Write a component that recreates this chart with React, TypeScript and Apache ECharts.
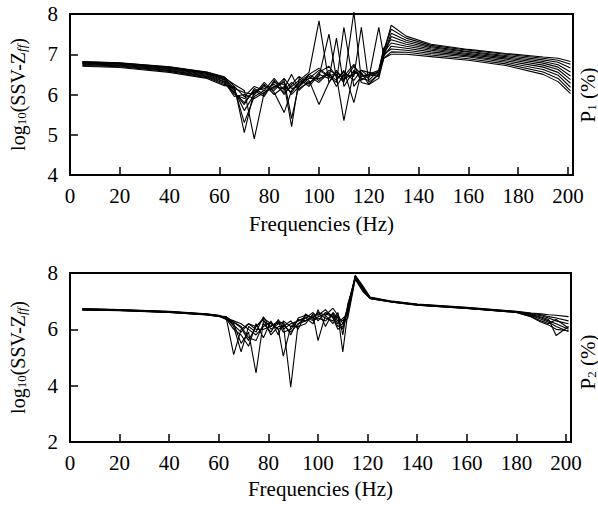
import React, { useEffect, useRef } from "react";
import * as echarts from "echarts";

// ---------- Top panel (P1) ----------
const freqTop = [5, 20, 40, 55, 62, 66, 70, 74, 78, 82, 86, 89, 92, 96, 100, 104, 107, 110, 114, 117, 120, 124, 126, 129, 135, 145, 160, 175, 190, 196, 201];

const top1 = [6.82, 6.79, 6.69, 6.56, 6.44, 6.20, 5.05, 6.10, 6.15, 6.25, 6.05, 6.20, 6.35, 6.55, 7.83, 6.30, 6.55, 6.40, 6.50, 6.60, 6.45, 6.55, 7.05, 7.72, 7.45, 7.25, 7.12, 7.02, 6.93, 6.90, 6.82];
const top2 = [6.81, 6.78, 6.68, 6.55, 6.42, 6.25, 6.10, 4.90, 6.05, 6.20, 6.30, 6.00, 6.20, 6.40, 6.60, 6.45, 6.30, 7.67, 6.20, 6.45, 6.50, 6.60, 7.10, 7.62, 7.40, 7.22, 7.10, 7.00, 6.90, 6.85, 6.75];
const top3 = [6.80, 6.77, 6.67, 6.53, 6.40, 6.15, 5.30, 5.95, 6.10, 6.40, 6.10, 6.30, 6.15, 6.30, 6.45, 7.50, 6.40, 6.55, 6.35, 6.60, 6.55, 6.50, 7.00, 7.52, 7.35, 7.19, 7.07, 6.97, 6.86, 6.80, 6.66];
const top4 = [6.79, 6.76, 6.65, 6.52, 6.38, 6.10, 5.60, 6.00, 6.30, 6.05, 5.55, 6.10, 6.30, 6.50, 6.35, 6.60, 6.50, 6.30, 8.05, 6.35, 6.50, 6.55, 6.95, 7.44, 7.30, 7.16, 7.05, 6.94, 6.82, 6.74, 6.56];
const top5 = [6.78, 6.75, 6.64, 6.50, 6.36, 6.05, 5.75, 6.15, 6.00, 6.30, 6.25, 5.20, 6.40, 6.20, 6.50, 6.40, 7.40, 6.20, 6.60, 6.40, 6.35, 6.60, 7.15, 7.36, 7.25, 7.13, 7.02, 6.91, 6.78, 6.68, 6.46];
const top6 = [6.77, 6.73, 6.62, 6.48, 6.33, 6.00, 5.90, 6.05, 6.20, 6.10, 6.35, 5.40, 6.25, 6.45, 6.30, 6.55, 6.20, 6.50, 6.45, 7.67, 6.30, 6.50, 7.05, 7.28, 7.20, 7.10, 6.99, 6.88, 6.73, 6.62, 6.37];
const top7 = [6.75, 6.72, 6.60, 6.46, 6.31, 5.95, 6.00, 5.90, 6.05, 6.20, 6.15, 6.50, 6.10, 6.35, 5.75, 6.30, 6.60, 6.35, 6.70, 6.50, 6.40, 7.67, 6.95, 7.20, 7.15, 7.06, 6.96, 6.84, 6.68, 6.55, 6.28];
const top8 = [6.74, 6.71, 6.59, 6.44, 6.28, 6.05, 5.80, 6.10, 5.95, 6.35, 6.00, 6.25, 6.45, 6.25, 6.55, 6.70, 6.45, 5.35, 6.60, 6.45, 6.50, 6.45, 7.00, 7.13, 7.10, 7.02, 6.93, 6.80, 6.62, 6.48, 6.18];
const top9 = [6.72, 6.69, 6.57, 6.42, 6.25, 6.15, 6.05, 6.00, 6.25, 6.00, 6.20, 6.05, 6.30, 6.40, 6.40, 6.50, 6.35, 6.60, 5.80, 6.55, 6.25, 6.50, 6.90, 7.06, 7.05, 6.98, 6.89, 6.76, 6.56, 6.40, 6.09];
const top10 = [6.70, 6.67, 6.55, 6.40, 6.22, 6.20, 5.95, 6.20, 6.10, 6.15, 6.40, 6.15, 6.20, 6.50, 6.65, 6.45, 6.55, 6.45, 6.75, 6.30, 6.25, 6.40, 6.90, 7.00, 7.00, 6.94, 6.85, 6.72, 6.50, 6.32, 6.02];

// ---------- Bottom panel (P2) ----------
const freqBottom = [5, 20, 40, 55, 60, 63, 66, 69, 72, 75, 78, 81, 84, 86, 89, 92, 95, 98, 100, 103, 106, 108, 110, 112, 115, 118, 121, 130, 140, 160, 180, 186, 190, 193, 196, 201];

const bot1 = [6.74, 6.70, 6.64, 6.55, 6.50, 6.40, 5.10, 6.00, 6.20, 6.10, 6.40, 6.20, 6.00, 5.05, 6.10, 6.30, 6.40, 6.20, 6.70, 6.10, 6.60, 6.40, 6.30, 6.60, 7.92, 7.55, 7.15, 7.00, 6.90, 6.78, 6.64, 6.58, 6.55, 6.52, 6.50, 6.45];
const bot2 = [6.73, 6.69, 6.63, 6.54, 6.49, 6.35, 6.20, 5.50, 5.90, 4.45, 6.30, 6.10, 6.30, 6.20, 3.95, 6.20, 6.30, 6.50, 5.60, 6.50, 6.75, 6.50, 6.20, 6.80, 7.90, 7.50, 7.13, 6.99, 6.89, 6.77, 6.63, 6.56, 6.52, 6.45, 6.40, 6.30];
const bot3 = [6.72, 6.69, 6.62, 6.54, 6.48, 6.42, 6.10, 5.20, 6.10, 5.90, 6.45, 6.00, 6.20, 6.25, 5.80, 6.40, 6.50, 6.40, 6.60, 6.50, 6.20, 6.50, 5.20, 6.60, 7.88, 7.48, 7.12, 6.98, 6.88, 6.76, 6.62, 6.54, 6.48, 6.40, 6.30, 6.20];
const bot4 = [6.71, 6.68, 6.62, 6.53, 6.48, 6.38, 6.00, 5.80, 5.40, 6.20, 5.70, 6.30, 5.80, 6.30, 6.10, 6.10, 6.20, 6.55, 6.50, 6.70, 6.40, 6.00, 6.10, 6.80, 7.86, 7.45, 7.12, 6.98, 6.88, 6.76, 6.62, 6.52, 6.44, 6.35, 5.78, 6.10];
const bot5 = [6.70, 6.68, 6.61, 6.53, 6.47, 6.45, 6.25, 6.10, 5.70, 5.60, 6.20, 5.90, 6.35, 6.00, 6.20, 6.30, 6.45, 6.30, 6.40, 6.30, 6.55, 6.30, 6.00, 6.70, 7.85, 7.42, 7.11, 6.97, 6.87, 6.75, 6.61, 6.50, 6.40, 6.30, 6.20, 6.00];
const bot6 = [6.70, 6.67, 6.61, 6.52, 6.47, 6.40, 6.30, 6.20, 6.00, 5.80, 6.10, 6.25, 6.00, 6.15, 5.90, 6.20, 6.40, 6.60, 6.30, 6.60, 6.50, 6.20, 6.40, 6.50, 7.83, 7.40, 7.10, 6.97, 6.87, 6.75, 6.61, 6.48, 6.36, 6.25, 6.10, 5.92];
const bot7 = [6.69, 6.67, 6.60, 6.52, 6.46, 6.44, 6.15, 5.90, 6.20, 6.00, 6.00, 6.10, 6.25, 5.90, 6.00, 6.35, 6.30, 6.45, 6.55, 6.40, 6.30, 6.60, 5.80, 6.90, 7.80, 7.38, 7.10, 6.96, 6.86, 6.74, 6.60, 6.46, 6.30, 6.20, 6.35, 6.05];
const bot8 = [6.69, 6.66, 6.60, 6.51, 6.46, 6.36, 6.25, 6.05, 5.60, 6.10, 6.35, 5.80, 6.10, 6.10, 6.30, 6.00, 6.55, 6.35, 6.45, 6.55, 6.45, 6.10, 6.20, 6.40, 7.78, 7.35, 7.09, 6.96, 6.86, 6.74, 6.60, 6.44, 6.25, 6.15, 6.00, 5.95];

const topSeries = [top1, top2, top3, top4, top5, top6, top7, top8, top9, top10];
const bottomSeries = [bot1, bot2, bot3, bot4, bot5, bot6, bot7, bot8];

const xTicks = { min: 0, max: 202, interval: 20 };
const yTop = { min: 4, max: 8, interval: 1 };
const yBottom = { min: 2, max: 8, interval: 2 };

const FONT = "Liberation Serif";

export default function App() {
  const ref = useRef<HTMLDivElement>(null);

  useEffect(() => {
    if (!ref.current) return;
    const chart = echarts.init(ref.current, null, { renderer: "svg" });

    const axisLabel = { color: "#000", fontFamily: FONT, fontSize: 21 };
    const rich = {
      a: { fontFamily: FONT, fontSize: 20, color: "#000", lineHeight: 24, verticalAlign: "bottom" },
      s: { fontFamily: FONT, fontSize: 13, color: "#000", lineHeight: 11, verticalAlign: "bottom" },
      i: { fontFamily: FONT, fontSize: 13, fontStyle: "italic", color: "#000", lineHeight: 11, verticalAlign: "bottom" },
    };
    const yName = "{a|log}{s|10}{a|(SSV-Z}{i|ff}{a|)}";

    const mkX = (gi: number, gap: number) => ({
      type: "value",
      gridIndex: gi,
      min: xTicks.min,
      max: xTicks.max,
      interval: xTicks.interval,
      splitLine: { show: false },
      axisLine: { show: true, lineStyle: { color: "#000", width: 2 } },
      axisTick: { show: true, inside: true, length: 8, lineStyle: { color: "#000", width: 1.5 } },
      axisLabel: { ...axisLabel, margin: 10, showMaxLabel: false },
      name: "Frequencies (Hz)",
      nameLocation: "middle",
      nameGap: gap,
      nameTextStyle: { color: "#000", fontFamily: FONT, fontSize: 21 },
    });
    const mkY = (gi: number, r: { min: number; max: number; interval: number }) => ({
      type: "value",
      gridIndex: gi,
      min: r.min,
      max: r.max,
      interval: r.interval,
      splitLine: { show: false },
      axisLine: { show: true, lineStyle: { color: "#000", width: 2 } },
      axisTick: { show: true, inside: true, length: 8, lineStyle: { color: "#000", width: 1.5 } },
      axisLabel: { ...axisLabel, margin: 12 },
      name: yName,
      nameLocation: "middle",
      nameGap: 42,
      nameTextStyle: { rich },
    });

    const series: any[] = [];
    topSeries.forEach((vals, k) => {
      series.push({
        type: "line",
        name: "P1-" + (k + 1),
        xAxisIndex: 0,
        yAxisIndex: 0,
        data: freqTop.map((f, i) => [f, vals[i]]),
        showSymbol: false,
        clip: false,
        silent: true,
        lineStyle: { color: "#000", width: 1.1 },
      });
    });
    bottomSeries.forEach((vals, k) => {
      series.push({
        type: "line",
        name: "P2-" + (k + 1),
        xAxisIndex: 1,
        yAxisIndex: 1,
        data: freqBottom.map((f, i) => [f, vals[i]]),
        showSymbol: false,
        silent: true,
        lineStyle: { color: "#000", width: 1.1 },
      });
    });

    const pRich = {
      a: { fontFamily: FONT, fontSize: 21, color: "#000", lineHeight: 24, verticalAlign: "bottom" },
      s: { fontFamily: FONT, fontSize: 13, color: "#000", lineHeight: 11, verticalAlign: "bottom" },
    };

    chart.setOption({
      animation: false,
      backgroundColor: "#fff",
      grid: [
        { left: 67, top: 14, width: 506, height: 161, show: true, borderColor: "#000", borderWidth: 2, backgroundColor: "transparent" },
        { left: 67, top: 273, width: 504, height: 169, show: true, borderColor: "#000", borderWidth: 2, backgroundColor: "transparent" },
      ],
      xAxis: [mkX(0, 38), mkX(1, 36)],
      yAxis: [mkY(0, yTop), mkY(1, yBottom)],
      series,
      graphic: [
        {
          type: "text",
          x: 586,
          y: 95,
          rotation: Math.PI / 2,
          style: { text: "{a|P}{s|1}{a| (%)}", rich: pRich, align: "center", verticalAlign: "middle" },
        },
        {
          type: "text",
          x: 586,
          y: 362,
          rotation: Math.PI / 2,
          style: { text: "{a|P}{s|2}{a| (%)}", rich: pRich, align: "center", verticalAlign: "middle" },
        },
      ],
    });

    return () => chart.dispose();
  }, []);

  return (
    <div
      ref={ref}
      style={{ position: "absolute", left: 0, top: 0, width: 598, height: 505, overflow: "hidden" }}
    />
  );
}
